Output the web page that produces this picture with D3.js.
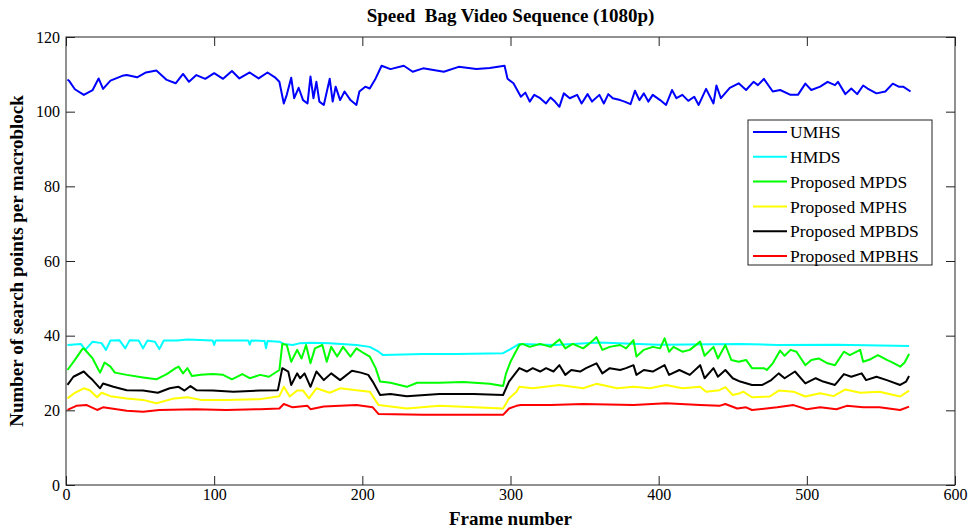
<!doctype html>
<html lang="en">
<head>
<meta charset="utf-8" />
<title>Speed Bag Video Sequence (1080p)</title>
<script src="https://cdn.jsdelivr.net/npm/d3@7"></script>
<style>
	body { margin: 0; background: #fff; }
	svg text { font-family: "Liberation Serif", "Times New Roman", serif; fill: #000; }
</style>
</head>
<body>
<div id="chart"></div>
<script>
	// [frame, search points]
	const umhs = [[1,108.6],[2,108.3],[6,106],[12,104.5],[18,105.8],[22,108.9],[25,106.1],[30,108.3],[38,109.6],[41,109.8],[48,109.2],[54,110.5],[61,111],[68,108.5],[74,107.6],[79,110.1],[83,108],[88,109.8],[94,108.8],[100,110.3],[106,108.8],[112,110.9],[117,108.9],[124,110.5],[130,108.9],[136,110.5],[141,109.2],[144,108],[147,102.2],[149,104.5],[152,109.1],[154,103.6],[157,106.4],[160,103.1],[163,102.2],[165,109.4],[167,103.6],[169,108],[171,102.7],[174,101.8],[178,108.8],[180,102.7],[182,106.7],[185,103.1],[188,105.4],[192,103.1],[196,101.8],[198,105.4],[202,106.7],[205,106.2],[209,108.9],[213,112.3],[219,111.4],[228,112.3],[234,110.7],[241,111.6],[255,110.7],[265,112],[277,111.4],[286,111.7],[296,112.3],[298,108.8],[302,107.6],[307,104],[310,105.1],[313,102.7],[316,104.5],[320,103.6],[324,102.2],[327,103.8],[330,102.7],[333,101.3],[336,104.9],[340,103.6],[345,104.5],[348,102.2],[352,104.7],[355,102.7],[360,104.5],[363,102.2],[366,104.7],[369,103.6],[374,103.1],[377,102.7],[381,102],[384,105.6],[387,103.1],[390,104.9],[393,102.7],[396,104.5],[401,103.1],[405,101.8],[409,105.8],[412,103.6],[416,104.5],[420,102.9],[424,104],[427,101.8],[432,106.1],[437,102.2],[439,107],[442,103.6],[448,106.4],[454,107.6],[459,105.8],[464,108],[467,107.1],[471,108.8],[477,105.4],[482,105.8],[489,104.5],[494,104.5],[499,107.5],[503,105.8],[509,106.7],[514,108],[519,107.1],[521,108],[526,104.7],[530,106.2],[534,104.7],[538,107],[541,106.2],[547,104.9],[553,105.4],[558,107.5],[562,106.7],[565,106.7],[570,105.4]];
	const hmds = [[1,37.5],[10,37.8],[13,36.2],[18,38.4],[24,38],[27,36.2],[30,38.7],[36,38.8],[40,36.6],[43,38.8],[49,38.7],[52,36.6],[55,38.7],[60,38.4],[63,36.4],[66,38.7],[75,38.7],[82,39],[99,38.7],[100,37.5],[101,38.7],[123,38.7],[124,37.6],[125,38.7],[134,38.6],[135,36.6],[136,38.6],[144,38.4],[147,37.8],[153,37.5],[158,38],[165,38.1],[178,38],[196,37.5],[205,37],[211,35.7],[214,34.8],[241,35.1],[264,35.1],[295,35.3],[300,36.4],[306,37.8],[330,37.5],[360,38.2],[400,37.6],[455,37.8],[480,37.5],[520,37.6],[569,37.2]];
	const mpds = [[1,30.8],[6,33.5],[11,36.4],[12,36.6],[14,35.7],[18,33.9],[22,30.8],[23,30.1],[26,32.8],[30,31.7],[33,30.1],[41,29.5],[52,28.8],[61,28.3],[68,29.7],[74,31.3],[76,31.7],[79,29.9],[82,31.3],[85,29.2],[91,29.5],[99,29.7],[106,29.5],[112,28.3],[119,29.7],[124,28.6],[131,29.5],[137,29],[144,30.8],[146,37.8],[149,37.5],[152,33],[156,36.2],[159,33.9],[162,37.5],[165,32.6],[168,36.6],[173,37.5],[176,33],[179,37],[183,34.4],[187,37],[192,34.4],[196,36.6],[201,35.3],[205,34.4],[209,31.3],[212,27.7],[219,27.4],[230,26.3],[237,27.4],[252,27.4],[268,27.6],[286,27.1],[295,26.5],[297,29.9],[300,33],[303,35.3],[306,37.5],[308,37.8],[313,37],[320,37.8],[327,37],[333,39],[337,36.6],[342,37.8],[349,36.6],[353,37.8],[358,39.6],[362,36.2],[367,37],[374,37.5],[378,36.6],[383,38.8],[385,34.4],[390,36.2],[396,37],[401,36.6],[404,39.3],[407,35.7],[410,37],[416,35.7],[421,36.2],[428,38.4],[431,34.6],[437,37],[440,33.9],[445,37.5],[449,33.5],[454,33],[459,33.5],[463,31.3],[471,31.3],[473,30.8],[477,32.6],[482,36],[485,34.6],[489,36.2],[493,35.7],[499,32.1],[503,33.5],[508,33.9],[514,32.6],[519,32.1],[525,35.7],[529,34.8],[536,36.2],[538,33],[543,33.7],[548,34.8],[554,33.5],[558,32.8],[563,31.7],[566,32.8],[569,35.1]];
	const mphs = [[1,23.2],[6,24.7],[12,25.9],[16,25.4],[21,23.5],[24,24.7],[30,23.8],[41,23.2],[52,22.8],[61,21.9],[73,23.2],[82,23.5],[91,22.8],[108,22.8],[131,23],[144,23.8],[147,26.3],[151,23.7],[156,25.3],[160,25.3],[164,23.2],[169,25.9],[178,24.7],[185,25.9],[196,25.4],[205,25],[211,21.4],[230,20.5],[252,21.2],[295,20.5],[299,23.2],[304,25],[306,26.3],[315,25.9],[333,26.8],[349,25.9],[358,27.1],[372,25.9],[383,26.3],[394,25.9],[405,26.8],[416,25.9],[428,26.3],[432,25],[441,25.4],[445,26.2],[450,24.1],[455,24.6],[457,25],[463,23.5],[475,23.7],[481,25.3],[491,25],[499,23.7],[509,24.6],[518,23.8],[526,25.6],[536,24.7],[549,25],[563,23.7],[569,25.3]];
	const mpbds = [[1,26.8],[5,29],[12,30.4],[15,29.2],[18,28.1],[23,25.9],[25,27.2],[32,26.3],[41,25.4],[52,25.3],[62,24.7],[70,25.9],[76,26.3],[80,25.3],[84,26.5],[88,25.4],[99,25.3],[113,25],[131,25.3],[143,25.4],[146,31.3],[150,30.4],[152,26.8],[156,29.9],[158,28.6],[161,29.9],[165,26.3],[169,30.4],[174,28.1],[179,29.9],[185,28.1],[193,30.6],[199,30.1],[204,29.5],[207,27.7],[212,24.1],[219,24.4],[230,23.8],[252,24.4],[275,24.4],[295,24.1],[299,27.7],[306,31.3],[311,30.4],[315,31.3],[320,30.4],[324,31.3],[329,30.4],[333,32.1],[337,29.5],[341,30.8],[347,30.4],[351,31.3],[358,32.6],[362,29.9],[367,31.3],[374,30.8],[378,31.3],[383,32.1],[385,29.5],[390,30.8],[396,30.4],[404,32.1],[407,29.5],[414,30.8],[421,29.5],[428,32.1],[431,28.6],[437,31.3],[440,29],[445,30.8],[450,28.6],[455,27.7],[463,26.8],[470,26.8],[476,28.1],[481,29.9],[485,28.6],[492,30.4],[499,27.2],[506,28.6],[511,27.7],[519,26.8],[525,29.7],[530,29],[537,29.9],[540,28.1],[547,29],[554,28.1],[563,26.8],[567,27.7],[569,29.2]];
	const mpbhs = [[1,20.1],[7,21.2],[14,21.4],[21,20.1],[25,20.8],[41,19.9],[52,19.6],[63,20.1],[87,20.3],[108,20.1],[131,20.3],[144,20.5],[147,21.7],[153,20.8],[163,21.2],[165,20.3],[174,21],[196,21.4],[207,20.8],[211,19],[241,18.8],[295,18.8],[299,20.5],[304,21.2],[307,21.4],[327,21.4],[349,21.7],[383,21.4],[405,21.9],[428,21.4],[441,21.2],[445,21.7],[453,20.5],[459,20.8],[463,20.1],[480,20.8],[491,21.4],[500,20.3],[509,20.8],[520,20.3],[527,21.2],[538,20.8],[549,20.8],[563,20.1],[569,21]];

	const seriesNames = ["UMHS", "HMDS", "Proposed MPDS", "Proposed MPHS", "Proposed MPBDS", "Proposed MPBHS"];
	const seriesData = [umhs, hmds, mpds, mphs, mpbds, mpbhs];
	const seriesColors = ["#0000ff", "#00ffff", "#00ff00", "#ffff00", "#000000", "#ff0000"];
	const xTicks = [0, 100, 200, 300, 400, 500, 600];
	const yTicks = [0, 20, 40, 60, 80, 100, 120];

	const W = 971, H = 531;
	const M = { left: 66, right: 16, top: 37, bottom: 46 };
	const iw = W - M.left - M.right;
	const ih = H - M.top - M.bottom;
	const TICK = 9;

	const svg = d3.select("#chart").append("svg").attr("width", W).attr("height", H);
	const g = svg.append("g").attr("transform", `translate(${M.left},${M.top})`);

	const x = d3.scaleLinear().domain([0, 600]).range([0, iw]);
	const y = d3.scaleLinear().domain([0, 120]).range([ih, 0]);

	// lines first, box and ticks drawn over them
	const line = d3.line().x((d) => x(d[0])).y((d) => y(d[1]));
	g.selectAll("path.series")
		.data(seriesData)
		.join("path")
		.attr("class", "series")
		.attr("fill", "none")
		.attr("stroke", (d, i) => seriesColors[i])
		.attr("stroke-width", 2)
		.attr("stroke-linejoin", "round")
		.attr("d", line);

	const styleAxis = (sel) => {
		sel.select(".domain").remove();
		sel.selectAll("line").attr("stroke", "#222");
		sel.selectAll("text").attr("font-family", "Liberation Serif, Times New Roman, serif").attr("font-size", 16).attr("fill", "#000");
	};

	// ticks point inwards, MATLAB style
	g.append("g").attr("transform", `translate(0,${ih})`)
		.call(d3.axisBottom(x).tickValues(xTicks).tickSizeInner(-TICK).tickSizeOuter(0).tickPadding(4))
		.call(styleAxis);
	g.append("g")
		.call(d3.axisTop(x).tickValues(xTicks).tickSizeInner(-TICK).tickSizeOuter(0).tickFormat(""))
		.call(styleAxis);
	g.append("g")
		.call(d3.axisLeft(y).tickValues(yTicks).tickSizeInner(-TICK).tickSizeOuter(0).tickPadding(6))
		.call(styleAxis);
	g.append("g").attr("transform", `translate(${iw},0)`)
		.call(d3.axisRight(y).tickValues(yTicks).tickSizeInner(-TICK).tickSizeOuter(0).tickFormat(""))
		.call(styleAxis);

	g.append("rect").attr("width", iw).attr("height", ih)
		.attr("fill", "none").attr("stroke", "#222").attr("stroke-width", 1);

	// legend
	const lg = svg.append("g").attr("transform", "translate(748,120)");
	lg.append("rect").attr("width", 184).attr("height", 145)
		.attr("fill", "#fff").attr("stroke", "#222");
	const rows = lg.selectAll("g.row").data(seriesNames).join("g")
		.attr("class", "row")
		.attr("transform", (d, i) => `translate(0,${12 + i * 24.8})`);
	rows.append("line").attr("x1", 5).attr("x2", 39)
		.attr("stroke", (d, i) => seriesColors[i]).attr("stroke-width", 2);
	rows.append("text").attr("x", 42).attr("dy", "0.35em")
		.attr("font-size", 17.5).text((d) => d);

	// titles
	svg.append("text").attr("x", M.left + iw / 2).attr("y", 22)
		.attr("text-anchor", "middle").attr("font-weight", "bold").attr("font-size", 19)
		.style("white-space", "pre")
		.text("Speed  Bag Video Sequence (1080p)");
	svg.append("text").attr("x", M.left + iw / 2).attr("y", 525)
		.attr("text-anchor", "middle").attr("font-weight", "bold").attr("font-size", 19)
		.text("Frame number");
	svg.append("text").attr("transform", `translate(23,${M.top + ih / 2}) rotate(-90)`)
		.attr("text-anchor", "middle").attr("font-weight", "bold").attr("font-size", 19)
		.text("Number of search points per macroblock");
</script>
</body>
</html>
